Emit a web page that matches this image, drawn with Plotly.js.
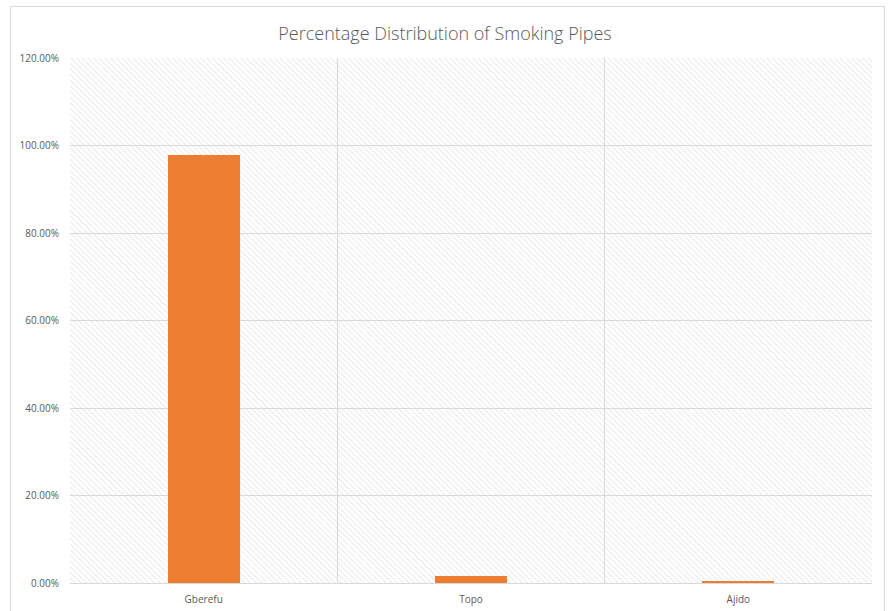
<!DOCTYPE html>
<html>
<head>
<meta charset="utf-8">
<script src="https://cdn.plot.ly/plotly-3.0.1.min.js"></script>
<style>
  html, body { margin: 0; padding: 0; background: #fff; }
  #wrap { position: relative; width: 890px; height: 611px; }
  #chart { width: 890px; height: 611px; }
  #frame { position: absolute; left: 10px; top: 6px; width: 875px; height: 610px;
           border: 1px solid #d9d9d9; box-sizing: border-box; pointer-events: none; }
</style>
</head>
<body>
<div id="wrap">
  <div id="chart"></div>
  <div id="frame"></div>
</div>
<script>
const categories = ["Gberefu", "Topo", "Ajido"];
const percentages = [0.978, 0.016, 0.005];
const yTickValues = [0, 0.2, 0.4, 0.6, 0.8, 1.0, 1.2];
const yTickLabels = ["0.00%", "20.00%", "40.00%", "60.00%", "80.00%", "100.00%", "120.00%"];

const hatchSvg =
  '<svg xmlns="http://www.w3.org/2000/svg" width="802" height="525">' +
  '<defs><pattern id="h" patternUnits="userSpaceOnUse" width="4" height="4" patternTransform="rotate(-45)">' +
  '<rect width="4" height="4" fill="#ffffff"/>' +
  '<line x1="0" y1="0" x2="0" y2="4" stroke="#dcdcdc" stroke-width="1.2"/>' +
  '</pattern></defs>' +
  '<rect width="802" height="525" fill="url(#h)"/></svg>';
const hatchUri = 'data:image/svg+xml;base64,' + btoa(hatchSvg);

const trace = {
  type: 'bar',
  x: categories,
  y: percentages,
  width: 0.27,
  marker: { color: '#ed7d31' },
  hoverinfo: 'x+y'
};

const layout = {
  width: 890,
  height: 611,
  margin: { l: 70, r: 18, t: 58, b: 28 },
  paper_bgcolor: 'rgba(0,0,0,0)',
  plot_bgcolor: 'rgba(0,0,0,0)',
  font: { family: 'Open Sans, Lato, sans-serif', color: '#595959', size: 10 },
  title: {
    text: 'Percentage Distribution of Smoking Pipes',
    font: { family: 'Open Sans, Lato, sans-serif', size: 18, color: '#595959', weight: 300 },
    x: 0.5, xanchor: 'center', y: 0.945, yanchor: 'middle'
  },
  showlegend: false,
  bargap: 0,
  xaxis: {
    type: 'category',
    tickson: 'boundaries',
    showgrid: true,
    gridcolor: '#d9d9d9',
    gridwidth: 1,
    ticks: '',
    showline: false,
    ticklabelstandoff: 9,
    tickfont: { size: 10, color: '#595959' },
    fixedrange: true
  },
  yaxis: {
    range: [0, 1.2],
    tickvals: yTickValues,
    ticktext: yTickLabels,
    showgrid: true,
    gridcolor: '#d9d9d9',
    gridwidth: 1,
    zeroline: true,
    zerolinecolor: '#d9d9d9',
    showline: false,
    ticks: '',
    ticklabelstandoff: 10,
    tickfont: { size: 10, color: '#595959' },
    fixedrange: true
  },
  images: [{
    source: hatchUri,
    xref: 'paper', yref: 'paper',
    x: 0, y: 1, sizex: 1, sizey: 1,
    xanchor: 'left', yanchor: 'top',
    sizing: 'stretch',
    layer: 'below'
  }]
};

Plotly.newPlot('chart', [trace], layout, { displayModeBar: false, staticPlot: true });
</script>
</body>
</html>
